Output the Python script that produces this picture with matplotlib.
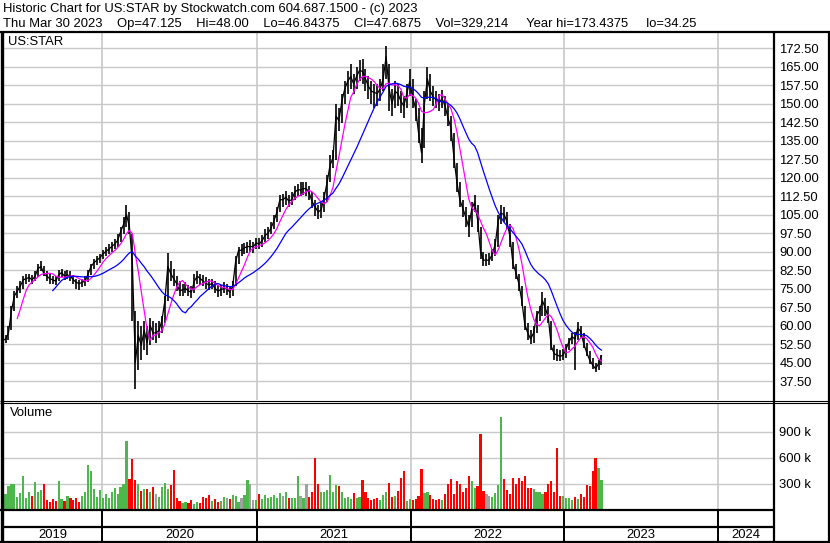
import matplotlib
matplotlib.use("Agg")
import matplotlib.pyplot as plt
import numpy as np
import pandas as pd

W, H = 830, 543
plt.rcParams['font.family'] = ['Liberation Sans', 'DejaVu Sans']
plt.rcParams['font.size'] = 9.4

# weekly bars, last one = Thu Mar 30 2023
closes = [54, 54.5, 57, 66, 72, 74, 76, 78.5, 79, 79.5,
          78.5, 80, 83, 84, 81, 80, 79, 78.5, 78, 80.5,
          81.5, 80, 80.5, 80, 78.5, 77.5, 77, 77.5, 78, 81,
          84, 85.5, 86.5, 87.5, 89, 90, 91, 92, 93, 94.5,
          98, 101, 105, 100, 85, 45, 56, 52, 58, 53,
          60, 57, 57, 58, 62, 70, 84, 81, 79, 77,
          74, 74.5, 75, 74, 73.5, 78, 80, 79, 78, 77,
          76.5, 77, 75, 74, 74.5, 75, 75, 73.5, 76, 86,
          90.5, 90.5, 91.5, 92, 92, 92, 93.5, 93, 94.5, 96.5,
          97.5, 99.5, 102.5, 106, 111, 111, 112, 110.5, 111, 114,
          115, 115, 115.5, 115.5, 113.5, 110, 108, 106, 107, 112,
          118, 125, 128, 145, 143, 151, 156, 159, 161, 158,
          161, 163.5, 163, 160, 157, 155, 154.5, 154, 156, 160,
          169, 156, 150, 155, 154, 151, 149, 154, 159, 152.5,
          148, 138, 130, 150, 160, 155, 152.5, 151.5, 150.5, 152,
          149, 144, 140, 128, 118, 111, 107.5, 104, 100, 107,
          110, 103, 90, 86.5, 86.5, 86.5, 89, 93, 102.5, 105.5,
          105, 102, 96, 85, 81.5, 77, 70, 60.5, 57, 54.5,
          57, 64, 66, 70, 67, 63, 51.5, 48.5, 48, 47.5,
          48, 50.5, 53.5, 55.5, 54.5, 59, 57.5, 52.5, 49, 46,
          44, 42.5, 44.5, 47.6875]
highs = [55.5, 56, 60, 68, 74, 76, 78, 80, 81, 81,
         80.5, 82, 85, 86, 84, 82, 81, 80, 80, 82.5,
         83, 82, 82.5, 82, 80.5, 79, 78.5, 79, 80, 82.5,
         85, 87, 88, 89, 90.5, 92, 93, 94, 95, 97,
         100, 104, 109, 106, 97, 66, 62, 60, 62, 60,
         63, 62, 61, 62, 64, 72, 89.5, 86, 83, 80,
         78, 77, 77.5, 76.5, 76, 81, 82, 81, 80.5, 79.5,
         79, 79, 78, 76.5, 76.5, 77.5, 77, 76, 78, 88,
         92, 93, 93.5, 94, 94.5, 94, 95.5, 95.5, 96.5, 99,
         100, 102, 105, 108, 113, 113.5, 114.5, 113, 114, 116.5,
         117.5, 118, 118, 118, 116.5, 114, 111, 109, 110, 114,
         121, 129, 131, 150, 148, 154, 159, 163, 166, 162,
         165, 167.5, 168, 164, 161, 159, 158, 158, 160, 166,
         173.4375, 166, 156, 159, 158, 155, 153, 158, 164, 160,
         152, 148, 140, 155, 165, 162, 157, 155, 154, 155.5,
         153, 150, 145, 138, 126, 118, 111, 108, 105, 110,
         113, 109, 100, 90, 89, 89.5, 91, 95, 105, 109,
         108, 106, 101, 94, 85, 81, 76, 68, 61, 58,
         60, 66, 68, 73.5, 71, 68, 62, 52, 50.5, 50,
         50.5, 52.5, 55, 57, 57.5, 61.5, 60, 57, 53, 49.5,
         47, 45, 46, 48]
lows = [52.5, 53, 54, 58, 66, 71, 73, 75, 77, 77.5,
        77, 78, 79.5, 82, 80, 78, 77, 77, 76.5, 78,
        79.5, 78.5, 79, 78, 77, 75, 74.5, 75.5, 76, 77.5,
        80.5, 83, 84.5, 85.5, 87, 88, 89, 90, 91, 92,
        94, 97, 100, 97, 62, 34.25, 42, 46, 50, 48,
        52, 54, 53, 55, 57, 61, 70, 78, 76, 74,
        72, 72, 73, 72, 71, 73, 77, 76.5, 76, 75,
        74.5, 75, 73, 71.5, 72, 73, 72.5, 71, 72, 76,
        85, 88, 89, 89.5, 90, 89.5, 91, 91, 92, 94,
        95, 97, 99, 102, 106, 108, 109, 108, 109, 111,
        112.5, 112.5, 113, 112.5, 111, 107.5, 104.5, 103, 103.5, 106,
        110, 118, 124, 127, 139, 142, 150, 154, 156, 154,
        156, 159, 158, 155, 152, 150, 148, 149, 151, 155,
        160, 147, 145, 148, 149, 146, 144, 148, 153, 148,
        143, 134, 126, 132, 152, 151, 149, 148, 147, 148,
        145, 141, 135, 124, 114, 108, 104, 100, 96, 100,
        106, 98, 87, 84, 84, 84.5, 86, 88, 92, 101,
        102, 99, 92, 83, 79, 74, 68, 58, 54, 52.5,
        53, 57, 62, 64, 64, 61, 50, 46, 45.5, 45.5,
        46, 47, 50, 52.5, 42, 54, 55, 51, 47.5, 44.5,
        42.5, 41, 42, 44]
volume_k = [90, 180, 270, 300, 290, 150, 190, 390, 130, 200,
            160, 320, 200, 230, 300, 110, 90, 120, 100, 335,
            120, 100, 160, 130, 110, 130, 90, 160, 200, 520,
            450, 240, 150, 230, 140, 180, 130, 200, 250, 180,
            260, 300, 790, 350, 580, 340, 300, 220, 240, 240,
            200, 260, 180, 150, 260, 310, 240, 280, 460, 130,
            100, 80, 90, 80, 110, 60, 90, 80, 150, 130,
            170, 100, 120, 90, 100, 150, 130, 120, 170, 160,
            90, 140, 170, 340, 300, 110, 110, 180, 120, 170,
            140, 150, 170, 130, 190, 160, 200, 130, 140, 130,
            385, 160, 130, 300, 150, 200, 590, 300, 200, 200,
            230, 400, 200, 280, 270, 200, 140, 150, 120, 190,
            140, 150, 340, 200, 130, 110, 120, 130, 110, 170,
            200, 310, 150, 160, 220, 360, 440, 100, 120, 110,
            120, 160, 470, 190, 200, 170, 120, 110, 120, 110,
            180, 300, 350, 180, 330, 290, 200, 250, 390, 330,
            250, 270, 870, 220, 180, 160, 150, 190, 280, 1070,
            350, 230, 180, 370, 290, 360, 330, 390, 250, 250,
            240, 200, 200, 180, 200, 290, 330, 200, 710, 160,
            160, 130, 140, 110, 150, 120, 180, 150, 280, 270,
            440, 600, 480, 340]

price_ticks = np.arange(37.5, 173, 7.5)
vol_ticks_k = [300, 600, 900]
years = [2019, 2020, 2021, 2022, 2023, 2024]
x_start, x_end = pd.Timestamp('2019-05-10'), pd.Timestamp('2024-05-10')

title1 = "Historic Chart for US:STAR by Stockwatch.com 604.687.1500 - (c) 2023"
title2 = ("Thu Mar 30 2023    Op=47.125    Hi=48.00    Lo=46.84375    Cl=47.6875    "
          "Vol=329,214     Year hi=173.4375     lo=34.25")

dates = pd.date_range(end='2023-03-30', periods=len(closes), freq='7D')
s = pd.Series(closes, index=dates)
ma_short = s.rolling(6).mean()
ma_long = s.rolling(18).mean()
vol = np.array(volume_k) * 1000
chg = np.diff(np.r_[closes[0], closes])
vcolors = np.where(chg > 0, '#4cb84c', np.where(chg < 0, '#ff0000', '#a0a0a0'))

GRID = '#c8c8c8'
fig = plt.figure(figsize=(W / 100, H / 100), dpi=100)
fig.patch.set_facecolor('white')


def box(top, bottom, x0=3, x1=773):
    return [x0 / W, 1 - bottom / H, (x1 - x0) / W, (bottom - top) / H]


ax = fig.add_axes(box(33, 400))
axv = fig.add_axes(box(403, 510), sharex=ax)
axd = fig.add_axes(box(510, 542), sharex=ax)

for a in (ax, axv, axd):
    for sp in a.spines.values():
        sp.set_visible(False)
    a.tick_params(length=0)
    a.set_xticks([])

# price panel
ax.set_ylim(29.8, 178.6)
ax.set_yticks(price_ticks)
ax.set_yticklabels(['%.2f' % t for t in price_ticks])
ax.yaxis.tick_right()
ax.tick_params(axis='y', pad=4.5)
for t in price_ticks:
    ax.axhline(t, color=GRID, lw=1.0, zorder=0)
for y in years[1:]:
    ax.axvline(pd.Timestamp(f'{y}-01-01'), color=GRID, lw=1.2, zorder=0)
ax.vlines(dates, lows, highs, color='black', lw=1.2, zorder=2)
ax.plot(dates, closes, color='black', lw=0.9, zorder=2)
ax.plot(dates, ma_short, color='#ff00ff', lw=0.9, zorder=3)
ax.plot(dates, ma_long, color='#0000ff', lw=0.9, zorder=3)
ax.set_xlim(x_start, x_end)

# volume panel
axv.set_ylim(-4000, 1229000)
axv.set_yticks([v * 1000 for v in vol_ticks_k])
axv.set_yticklabels(['%d k' % v for v in vol_ticks_k])
axv.yaxis.tick_right()
axv.tick_params(axis='y', pad=4.5)
for v in vol_ticks_k:
    axv.axhline(v * 1000, color=GRID, lw=1.0, zorder=0)
for y in years[1:]:
    axv.axvline(pd.Timestamp(f'{y}-01-01'), color=GRID, lw=1.2, zorder=0)
axv.bar(dates, vol, width=5.2, color=vcolors, align='center', zorder=2)

# date rows
axd.set_ylim(32, 0)
axd.set_yticks([])
axd.axhline(16.5, color='black', lw=1.6)
for y in years[1:]:
    axd.axvline(pd.Timestamp(f'{y}-01-01'), color='black', lw=1.4)
for y in years:
    a0 = max(pd.Timestamp(f'{y}-01-01'), x_start)
    a1 = min(pd.Timestamp(f'{y + 1}-01-01'), x_end)
    axd.text(a0 + (a1 - a0) / 2, 24.5, str(y), ha='center', va='center')
axd.set_xlim(x_start, x_end)

# frame lines in pixel space
fr = fig.add_axes([0, 0, 1, 1], zorder=10)
fr.set_xlim(0, W)
fr.set_ylim(H, 0)
fr.axis('off')
fr.patch.set_alpha(0)
k = dict(color='black', solid_capstyle='butt')
fr.plot([0, W], [32, 32], lw=1.6, **k)
fr.plot([1.5, 1.5], [32, H], lw=2.4, **k)
fr.plot([773.5, 773.5], [32, H], lw=1.6, **k)
fr.plot([829, 829], [32, H], lw=1.6, **k)
fr.plot([0, W], [400.5, 400.5], lw=0.8, **k)
fr.plot([0, W], [403, 403], lw=0.8, **k)
fr.plot([0, 773], [510, 510], lw=1.6, **k)
fr.plot([0, W], [542, 542], lw=1.6, **k)

fig.text(3 / W, 1 - 9 / H, title1, va='center', ha='left')
fig.text(3 / W, 1 - 24 / H, title2, va='center', ha='left')
fig.text(8 / W, 1 - 42 / H, 'US:STAR', va='center', ha='left')
fig.text(10 / W, 1 - 413 / H, 'Volume', va='center', ha='left')

fig.savefig('out.png', dpi=100)
